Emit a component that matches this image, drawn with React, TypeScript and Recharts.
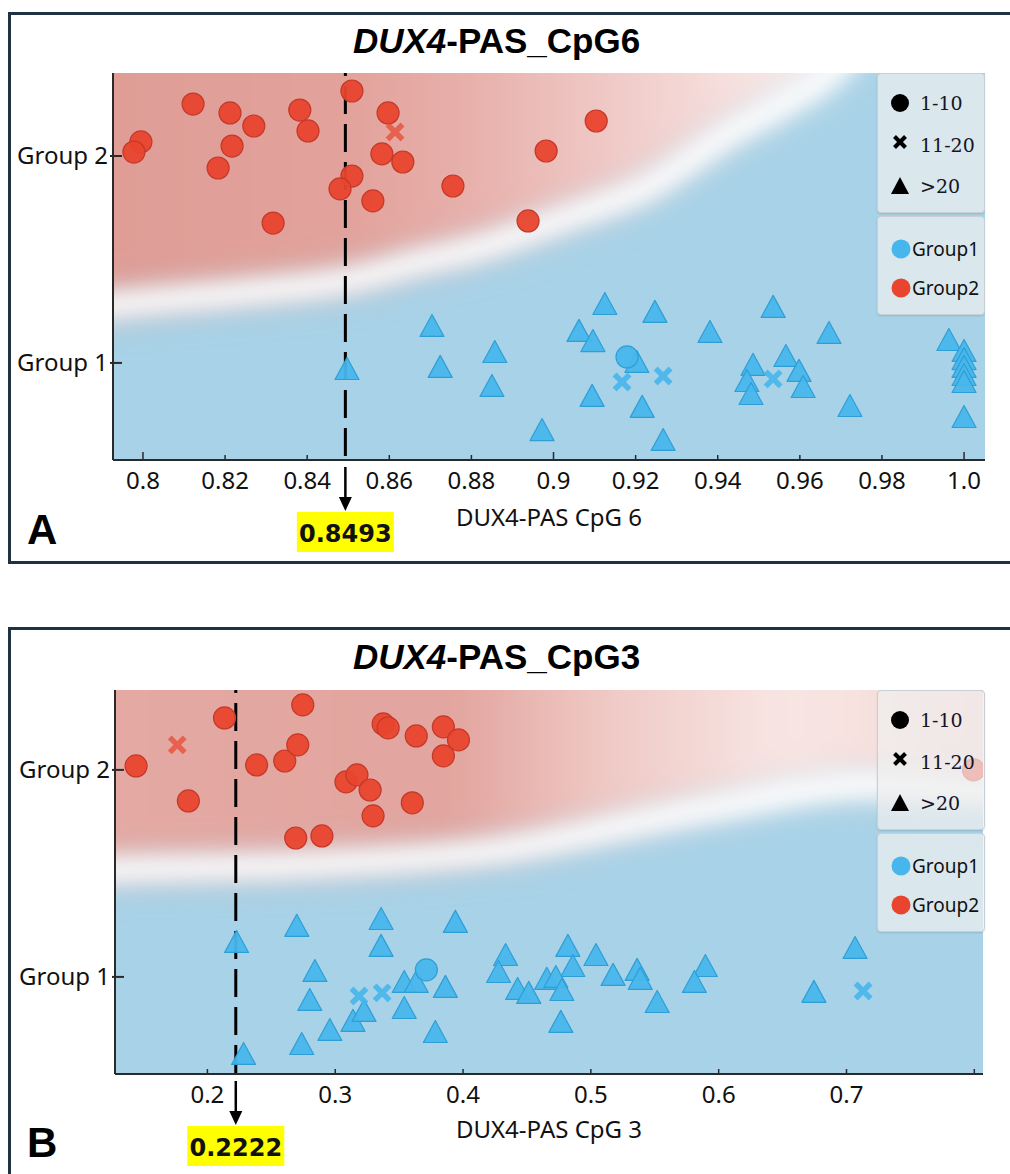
import React from 'react'
import {
  ComposedChart,
  Scatter,
  Area,
  Line,
  XAxis,
  YAxis,
  CartesianGrid,
  ReferenceLine,
} from 'recharts'

type Pt = [number, number]

// --- shared ---
const groupTicks = [1, 2]
const groupTickLabels = ['Group 1', 'Group 2']

// --- Panel A: DUX4-PAS CpG 6 ---
const cpg6Ticks = [0.8, 0.82, 0.84, 0.86, 0.88, 0.9, 0.92, 0.94, 0.96, 0.98, 1.0]
const cpg6TickLabels = ['0.8', '0.82', '0.84', '0.86', '0.88', '0.9', '0.92', '0.94', '0.96', '0.98', '1.0']
const cpg6MajorTicks = [0.8, 0.9, 1.0]
const cpg6Cutoff = 0.8493

const cpg6Group2Circles: Pt[] = [
  [0.8509, 2.314], [0.8122, 2.251], [0.8212, 2.208], [0.827, 2.145], [0.8382, 2.222],
  [0.8402, 2.121], [0.8597, 2.208], [0.7995, 2.068], [0.7978, 2.019], [0.8217, 2.048],
  [0.8183, 1.942], [0.8582, 2.01], [0.8633, 1.971], [0.8509, 1.903], [0.848, 1.841],
  [0.856, 1.783], [0.8755, 1.855], [0.8317, 1.676], [0.9104, 2.169], [0.8982, 2.024],
  [0.8938, 1.686],
]
const cpg6Group2Crosses: Pt[] = [[0.8614, 2.116]]

const cpg6Group1Triangles: Pt[] = [
  [0.8497, 0.966], [0.8704, 1.174], [0.8724, 0.976], [0.8857, 1.048], [0.885, 0.884],
  [0.9125, 1.28], [0.9247, 1.242], [0.9062, 1.15], [0.9096, 1.101], [0.9203, 1.0],
  [0.9094, 0.836], [0.9216, 0.783], [0.8972, 0.671], [0.9267, 0.623], [0.9381, 1.145],
  [0.9535, 1.266], [0.9486, 0.986], [0.9471, 0.908], [0.9481, 0.845], [0.9566, 1.029],
  [0.9598, 0.957], [0.9608, 0.879], [0.9671, 1.14], [0.9722, 0.787], [0.9963, 1.106],
  [1.0, 1.053], [1.0, 1.014], [1.0, 0.976], [1.0, 0.937], [1.0, 0.903], [1.0, 0.734],
]
const cpg6Group1Circles: Pt[] = [[0.9179, 1.029]]
const cpg6Group1Crosses: Pt[] = [[0.9167, 0.908], [0.9267, 0.937], [0.9535, 0.923]]

// decision boundary between the two shaded regions
const cpg6Boundary: Pt[] = [
  [0.77, 1.22], [0.7927, 1.28], [0.8261, 1.343], [0.8504, 1.401], [0.8675, 1.488],
  [0.8821, 1.556], [0.9016, 1.691], [0.9228, 1.85], [0.943, 2.111], [0.9576, 2.271],
  [0.9674, 2.401], [0.98, 2.7], [0.995, 3.1],
]

// --- Panel B: DUX4-PAS CpG 3 ---
const cpg3Ticks = [0.2, 0.3, 0.4, 0.5, 0.6, 0.7, 0.8]
const cpg3TickLabels = ['0.2', '0.3', '0.4', '0.5', '0.6', '0.7', '']
const cpg3MajorTicks: number[] = []
const cpg3Cutoff = 0.2222

const cpg3Group2Circles: Pt[] = [
  [0.1442, 2.019], [0.1851, 1.85], [0.2134, 2.251], [0.2385, 2.024], [0.2605, 2.043],
  [0.2707, 2.121], [0.2746, 2.314], [0.3084, 1.942], [0.317, 1.976], [0.3273, 1.903],
  [0.3296, 1.778], [0.2691, 1.671], [0.2896, 1.681], [0.3375, 2.222], [0.3414, 2.203],
  [0.3634, 2.164], [0.3603, 1.841], [0.3846, 2.208], [0.3964, 2.145], [0.3846, 2.068],
  [0.7994, 2.0],
]
const cpg3Group2Crosses: Pt[] = [[0.1764, 2.121]]

const cpg3Group1Triangles: Pt[] = [
  [0.2228, 1.164], [0.2283, 0.623], [0.2699, 1.242], [0.2841, 1.024], [0.2801, 0.884],
  [0.2738, 0.671], [0.2958, 0.739], [0.3139, 0.783], [0.3225, 0.831], [0.3359, 1.275],
  [0.3359, 1.145], [0.354, 0.971], [0.3634, 0.971], [0.354, 0.845], [0.3862, 0.947],
  [0.3783, 0.729], [0.394, 1.261], [0.4333, 1.101], [0.4278, 1.019], [0.4427, 0.937],
  [0.4514, 0.918], [0.482, 1.145], [0.4859, 1.048], [0.4655, 0.986], [0.4726, 0.995],
  [0.4773, 0.932], [0.4765, 0.778], [0.504, 1.101], [0.5174, 1.005], [0.5362, 1.029],
  [0.5386, 0.986], [0.5519, 0.874], [0.5896, 1.048], [0.581, 0.971], [0.7067, 1.135],
  [0.6745, 0.923],
]
const cpg3Group1Circles: Pt[] = [[0.3713, 1.034]]
const cpg3Group1Crosses: Pt[] = [[0.3186, 0.908], [0.3367, 0.923], [0.713, 0.932]]

const cpg3Boundary: Pt[] = [
  [0.08, 1.5], [0.1277, 1.517], [0.2731, 1.541], [0.4302, 1.614], [0.5873, 1.807],
  [0.7208, 1.928], [0.807, 1.903], [0.86, 1.9],
]

// --- styling ---
const BLUE = '#47b6ec'
const BLUE_EDGE = '#2e9fd6'
const RED = '#e8442e'
const RED_EDGE = '#c4392a'
const AXIS = '#2a2a2a'
const SANS = '"Noto Sans", "DejaVu Sans", sans-serif'
const REGION_TOP = 3.4

const toXY = (pts: Pt[]) => pts.map(([x, y]) => ({ x, y }))

const circleShape = (fill: string, edge: string) => (p: any) => (
  <circle cx={p.cx} cy={p.cy} r={11} fill={fill} stroke={edge} strokeWidth={1.2} fillOpacity={0.95} />
)
const triangleShape = (fill: string, edge: string) => (p: any) => (
  <path
    d={`M${p.cx},${p.cy - 12.5} L${p.cx + 12},${p.cy + 9.5} L${p.cx - 12},${p.cy + 9.5} Z`}
    fill={fill}
    stroke={edge}
    strokeWidth={1.2}
    strokeLinejoin="round"
    fillOpacity={0.95}
  />
)
const crossShape = (fill: string, opacity: number) => (p: any) => (
  <g stroke={fill} strokeWidth={5.5} opacity={opacity}>
    <line x1={p.cx - 7.5} y1={p.cy - 7.5} x2={p.cx + 7.5} y2={p.cy + 7.5} />
    <line x1={p.cx - 7.5} y1={p.cy + 7.5} x2={p.cx + 7.5} y2={p.cy - 7.5} />
  </g>
)

const cutoffShape = (label: string) => (p: any) => {
  const x = p.x1
  const top = Math.min(p.y1, p.y2)
  const axisY = Math.max(p.y1, p.y2)
  const tip = axisY + 51
  return (
    <g>
      <line x1={x} x2={x} y1={top} y2={axisY} stroke="#000" strokeWidth={3} strokeDasharray="28 10" strokeDashoffset={25} />
      <line x1={x} x2={x} y1={axisY + 7} y2={tip - 12} stroke="#000" strokeWidth={2.5} />
      <path d={`M${x - 6.5},${tip - 14} L${x + 6.5},${tip - 14} L${x},${tip} Z`} fill="#000" />
      <rect x={x - 48.5} y={tip + 1} width={97} height={40} fill="#ffff00" />
      <text x={x} y={tip + 31} textAnchor="middle" fontFamily="DejaVu Sans" fontWeight="bold" fontSize={24} fill="#111">
        {label}
      </text>
    </g>
  )
}

const XTick = (props: any) => {
  const { x, y, payload, ticks, labels, majors } = props
  const i = ticks.findIndex((t: number) => Math.abs(t - payload.value) < 1e-9)
  const isMajor = majors.some((t: number) => Math.abs(t - payload.value) < 1e-9)
  return (
    <g>
      <line x1={x} x2={x} y1={y} y2={y - (isMajor ? 8 : 5)} stroke={AXIS} strokeWidth={1.5} />
      <text x={x} y={y + 29} textAnchor="middle" fontFamily={SANS} fontSize={24} fill="#111">
        {i >= 0 ? labels[i] : ''}
      </text>
    </g>
  )
}

const YTick = (props: any) => {
  const { x, y, payload } = props
  const i = groupTicks.indexOf(payload.value)
  return (
    <g>
      <line x1={x - 3} x2={x + 9} y1={y} y2={y} stroke={AXIS} strokeWidth={2} />
      <text x={x - 5} y={y} dy="0.35em" textAnchor="end" fontFamily={SANS} fontSize={24} fill="#111">
        {groupTickLabels[i]}
      </text>
    </g>
  )
}

interface PanelProps {
  top: number
  height: number
  margin: { top: number; right: number; bottom: number; left: number }
  xDomain: [number, number]
  yDomain: [number, number]
  ticks: number[]
  tickLabels: string[]
  majors: number[]
  boundary: Pt[]
  redFill: string
  g2Circles: Pt[]
  g2Crosses: Pt[]
  g1Triangles: Pt[]
  g1Circles: Pt[]
  g1Crosses: Pt[]
  cutoff: number
}

function Panel(p: PanelProps) {
  const boundary = toXY(p.boundary)
  return (
    <div style={{ position: 'absolute', left: 0, top: p.top, width: 1010, height: p.height }}>
      <ComposedChart width={1010} height={p.height} margin={p.margin}>
        <CartesianGrid horizontal={false} vertical={false} fill="#a8d2e7" />
        <XAxis
          type="number"
          dataKey="x"
          domain={p.xDomain}
          allowDataOverflow
          ticks={p.ticks}
          interval={0}
          tickSize={0}
          tickMargin={0}
          tickLine={false}
          height={40}
          axisLine={{ stroke: AXIS, strokeWidth: 2 }}
          tick={(t: any) => <XTick {...t} ticks={p.ticks} labels={p.tickLabels} majors={p.majors} />}
        />
        <YAxis
          type="number"
          dataKey="y"
          domain={p.yDomain}
          allowDataOverflow
          ticks={groupTicks}
          interval={0}
          tickSize={0}
          tickMargin={0}
          tickLine={false}
          width={100}
          axisLine={{ stroke: AXIS, strokeWidth: 2 }}
          tick={(t: any) => <YTick {...t} />}
        />
        <Area
          data={boundary}
          dataKey="y"
          baseValue={REGION_TOP}
          type="monotone"
          fill={p.redFill}
          fillOpacity={1}
          stroke="none"
          filter="url(#blurRegion)"
          isAnimationActive={false}
        />
        <Line
          data={boundary}
          dataKey="y"
          type="monotone"
          stroke="#ffffff"
          strokeWidth={24}
          dot={false}
          activeDot={false}
          filter="url(#blurBand)"
          isAnimationActive={false}
        />
        <Scatter data={toXY(p.g1Triangles)} shape={triangleShape(BLUE, BLUE_EDGE)} isAnimationActive={false} />
        <Scatter data={toXY(p.g1Circles)} shape={circleShape(BLUE, BLUE_EDGE)} isAnimationActive={false} />
        <Scatter data={toXY(p.g1Crosses)} shape={crossShape(BLUE, 0.9)} isAnimationActive={false} />
        <Scatter data={toXY(p.g2Circles)} shape={circleShape(RED, RED_EDGE)} isAnimationActive={false} />
        <Scatter data={toXY(p.g2Crosses)} shape={crossShape(RED, 0.7)} isAnimationActive={false} />
        <ReferenceLine x={p.cutoff} shape={cutoffShape(p.cutoff.toFixed(4))} />
      </ComposedChart>
    </div>
  )
}

function LegendBoxes({ top }: { top: number }) {
  const box: React.CSSProperties = {
    position: 'absolute',
    left: 877,
    width: 108,
    background: 'rgba(240,240,240,0.7)',
    border: '1px solid #c8cfd5',
    borderRadius: 4,
    boxSizing: 'border-box',
    boxShadow: '0 1px 2px rgba(0,0,0,0.12)',
  }
  const serif = { fontFamily: '"DejaVu Serif", serif', fontSize: 19, fill: '#151525' }
  const sans = { fontFamily: SANS, fontSize: 19, fill: '#111' }
  return (
    <>
      <div style={{ ...box, top, height: 140 }}>
        <svg width={106} height={138} style={{ display: 'block' }}>
          <circle cx={22} cy={29} r={9} fill="#000" />
          <text x={42} y={36} {...serif}>1-10</text>
          <g stroke="#000" strokeWidth={4}>
            <line x1={16.5} y1={62.5} x2={27.5} y2={73.5} />
            <line x1={16.5} y1={73.5} x2={27.5} y2={62.5} />
          </g>
          <text x={42} y={78} {...serif}>11-20</text>
          <path d="M22,103 L31,120 L13,120 Z" fill="#000" />
          <text x={42} y={119} {...serif}>&gt;20</text>
        </svg>
      </div>
      <div style={{ ...box, top: top + 143, height: 99 }}>
        <svg width={106} height={97} style={{ display: 'block' }}>
          <circle cx={23} cy={32} r={9.5} fill={BLUE} />
          <text x={34} y={39} {...sans}>Group1</text>
          <circle cx={23} cy={71} r={9.5} fill={RED} />
          <text x={34} y={78} {...sans}>Group2</text>
        </svg>
      </div>
    </>
  )
}

const frame: React.CSSProperties = {
  position: 'absolute',
  left: 8,
  width: 1100,
  border: '3px solid #1f3243',
  boxSizing: 'border-box',
}
const titleStyle: React.CSSProperties = {
  position: 'absolute',
  left: 0,
  width: 993,
  textAlign: 'center',
  fontFamily: '"Liberation Sans", Arial, sans-serif',
  fontWeight: 'bold',
  fontSize: 35,
  lineHeight: '35px',
  color: '#000',
  whiteSpace: 'nowrap',
}
const axisTitle: React.CSSProperties = {
  position: 'absolute',
  left: 0,
  width: 1098,
  textAlign: 'center',
  fontFamily: SANS,
  fontSize: 24,
  lineHeight: '24px',
  color: '#111',
  whiteSpace: 'nowrap',
}
const panelLetter: React.CSSProperties = {
  position: 'absolute',
  fontFamily: '"Liberation Sans", Arial, sans-serif',
  fontWeight: 'bold',
  fontSize: 42,
  lineHeight: '42px',
  color: '#000',
}

export default function App() {
  return (
    <div style={{ position: 'absolute', left: 0, top: 0, width: 1010, height: 1174, overflow: 'hidden', background: '#fff' }}>
      <svg width={0} height={0} style={{ position: 'absolute' }}>
        <defs>
          <filter id="blurRegion" filterUnits="userSpaceOnUse" x={-300} y={-300} width={1700} height={1300}>
            <feGaussianBlur stdDeviation={22} />
          </filter>
          <filter id="blurBand" filterUnits="userSpaceOnUse" x={-300} y={-300} width={1700} height={1300}>
            <feGaussianBlur stdDeviation={11} />
          </filter>
          <linearGradient id="redA" gradientUnits="userSpaceOnUse" x1={113} y1={0} x2={985} y2={0}>
            <stop offset="0" stopColor="#df9d96" />
            <stop offset="0.27" stopColor="#e2a29b" />
            <stop offset="0.42" stopColor="#e8b1ac" />
            <stop offset="0.58" stopColor="#f0cbc8" />
            <stop offset="0.77" stopColor="#f9e9e7" />
            <stop offset="1" stopColor="#ffffff" />
          </linearGradient>
          <linearGradient id="redB" gradientUnits="userSpaceOnUse" x1={115} y1={0} x2={983} y2={0}>
            <stop offset="0" stopColor="#e4a9a3" />
            <stop offset="0.39" stopColor="#e2a49e" />
            <stop offset="0.56" stopColor="#efc8c4" />
            <stop offset="0.77" stopColor="#f8e6e4" />
            <stop offset="0.9" stopColor="#f6dfdc" />
            <stop offset="1" stopColor="#f2d2ce" />
          </linearGradient>
        </defs>
      </svg>

      {/* Panel A */}
      <div style={{ ...frame, top: 12, height: 552 }} />
      <div style={{ ...titleStyle, top: 22.5 }}>
        <i>DUX4</i>-PAS_CpG6
      </div>
      <Panel
        top={0}
        height={560}
        margin={{ top: 73, right: 25, bottom: 60, left: 13 }}
        xDomain={[0.7927, 1.0051]}
        yDomain={[0.531, 2.401]}
        ticks={cpg6Ticks}
        tickLabels={cpg6TickLabels}
        majors={cpg6MajorTicks}
        boundary={cpg6Boundary}
        redFill="url(#redA)"
        g2Circles={cpg6Group2Circles}
        g2Crosses={cpg6Group2Crosses}
        g1Triangles={cpg6Group1Triangles}
        g1Circles={cpg6Group1Circles}
        g1Crosses={cpg6Group1Crosses}
        cutoff={cpg6Cutoff}
      />
      <LegendBoxes top={73} />
      <div style={{ ...axisTitle, top: 505, width: 1098 }}>DUX4-PAS CpG 6</div>
      <div style={{ ...panelLetter, top: 508.5, left: 27 }}>A</div>

      {/* Panel B */}
      <div style={{ ...frame, top: 627, height: 700 }} />
      <div style={{ ...titleStyle, top: 638.5 }}>
        <i>DUX4</i>-PAS_CpG3
      </div>
      <Panel
        top={620}
        height={554}
        margin={{ top: 70, right: 27, bottom: 60, left: 15 }}
        xDomain={[0.1277, 0.8068]}
        yDomain={[0.531, 2.386]}
        ticks={cpg3Ticks}
        tickLabels={cpg3TickLabels}
        majors={cpg3MajorTicks}
        boundary={cpg3Boundary}
        redFill="url(#redB)"
        g2Circles={cpg3Group2Circles}
        g2Crosses={cpg3Group2Crosses}
        g1Triangles={cpg3Group1Triangles}
        g1Circles={cpg3Group1Circles}
        g1Crosses={cpg3Group1Crosses}
        cutoff={cpg3Cutoff}
      />
      <LegendBoxes top={690} />
      <div style={{ ...axisTitle, top: 1117 }}>DUX4-PAS CpG 3</div>
      <div style={{ ...panelLetter, top: 1121.5, left: 27 }}>B</div>
    </div>
  )
}
